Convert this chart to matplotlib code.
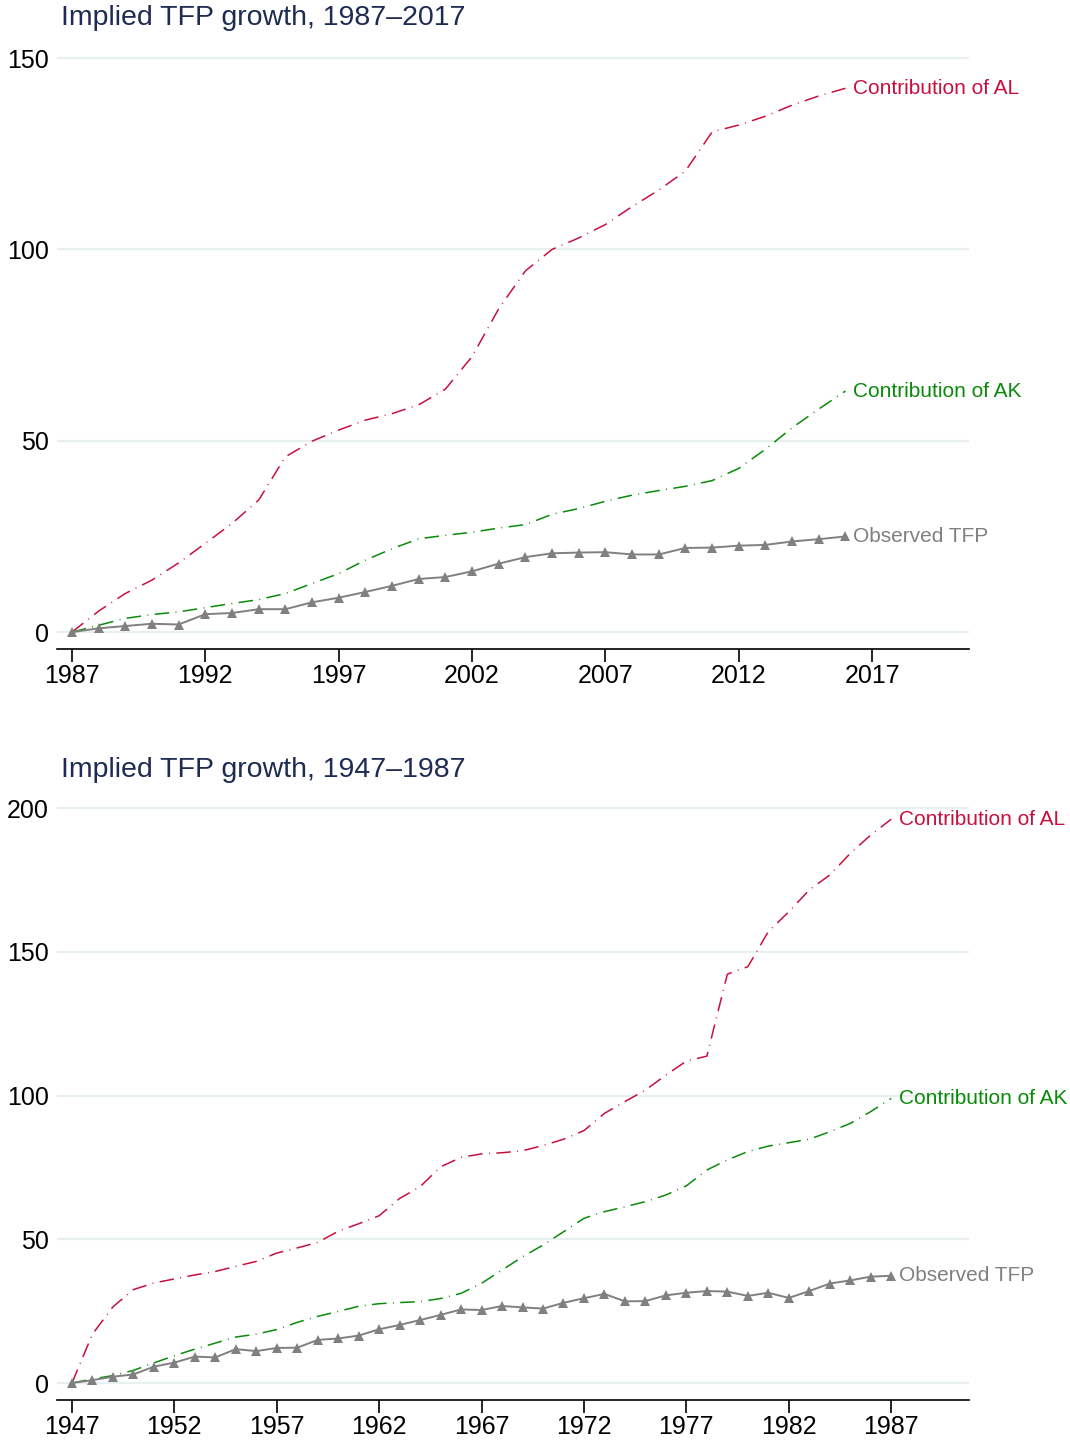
import matplotlib
matplotlib.use("Agg")
import matplotlib.pyplot as plt

plt.rcParams['font.family'] = ['Liberation Sans', 'DejaVu Sans']

# ---- 1987-2017 panel ----
years_recent = list(range(1987, 2017))
al_recent = [0, 5.5, 10.1, 13.6, 18.1, 23.2, 28.4, 34.5, 45.8, 49.9,
             52.8, 55.4, 57.1, 59.4, 63.5, 72.0, 84.5, 94.4, 100.0, 103.0,
             106.5, 111.2, 115.5, 120.5, 130.7, 132.5, 134.8, 137.7, 140.1, 142.1]
ak_recent = [0, 1.8, 3.6, 4.6, 5.3, 6.4, 7.5, 8.5, 10.1, 12.7,
             15.3, 18.8, 21.8, 24.4, 25.3, 26.1, 27.2, 28.1, 30.8, 32.3,
             34.2, 35.8, 37.0, 38.1, 39.6, 42.8, 47.8, 53.4, 58.3, 63.0]
tfp_recent = [0, 1.0, 1.6, 2.2, 2.0, 4.7, 5.0, 6.0, 6.0, 7.8,
              9.0, 10.5, 12.1, 13.9, 14.4, 15.9, 17.9, 19.6, 20.6, 20.8,
              20.9, 20.3, 20.3, 22.0, 22.1, 22.6, 22.8, 23.7, 24.3, 25.0]
xticks_recent = [1987, 1992, 1997, 2002, 2007, 2012, 2017]
yticks_recent = [0, 50, 100, 150]

# ---- 1947-1987 panel ----
years_early = list(range(1947, 1988))
al_early = [0, 17.0, 26.5, 32.5, 34.8, 36.2, 37.6, 38.8, 40.6, 42.3,
            45.2, 47.0, 48.9, 52.8, 55.4, 58.2, 64.2, 68.3, 75.2, 78.5,
            79.7, 80.1, 80.8, 82.6, 84.8, 87.8, 93.8, 97.9, 101.9, 107.1,
            112.0, 113.7, 142.2, 144.8, 157.0, 163.9, 171.5, 176.7, 184.2, 190.6,
            196.1]
ak_early = [0, 1.4, 2.6, 4.4, 7.0, 9.5, 11.8, 13.9, 16.0, 17.0,
            18.6, 21.1, 23.2, 24.9, 26.7, 27.6, 28.0, 28.3, 29.4, 31.2,
            34.7, 39.3, 43.9, 48.0, 52.6, 57.3, 59.6, 61.3, 63.1, 65.4,
            68.6, 74.1, 77.6, 80.5, 82.4, 83.6, 84.8, 87.4, 90.3, 94.4,
            99.0]
tfp_early = [0, 1.0, 2.2, 3.0, 5.7, 7.1, 9.2, 8.9, 11.8, 11.1,
             12.2, 12.3, 15.0, 15.5, 16.5, 18.7, 20.2, 21.9, 23.7, 25.6,
             25.4, 26.8, 26.3, 25.9, 27.9, 29.5, 31.0, 28.4, 28.5, 30.5,
             31.4, 32.0, 31.8, 30.3, 31.4, 29.6, 32.0, 34.6, 35.7, 37.0,
             37.3]
xticks_early = [1947, 1952, 1957, 1962, 1967, 1972, 1977, 1982, 1987]
yticks_early = [0, 50, 100, 150, 200]

RED = '#c8103e'
GREEN = '#0a8a0a'
GRAY = '#808080'
NAVY = '#1e2b52'
GRID = '#e8eff1'

W, H = 1070, 1442
fig = plt.figure(figsize=(W / 100, H / 100), dpi=100)

DASHDOT = (0, (9.5, 4.2, 0.6, 4.2))


def px_axes(left, top, right, bottom):
    return fig.add_axes([left / W, 1 - bottom / H, (right - left) / W, (bottom - top) / H])


def panel(ax, years, al, ak, tfp, xticks, yticks, xlim, ylim, title, title_y):
    ax.set_xlim(*xlim)
    ax.set_ylim(*ylim)
    ax.set_yticks(yticks)
    ax.set_xticks(xticks)
    ax.set_xticklabels([str(t) for t in xticks])
    ax.tick_params(axis='y', length=0, pad=6, labelsize=18, labelcolor='black')
    ax.tick_params(axis='x', length=9, width=1.2, pad=2, labelsize=18, direction='out')
    for side in ('left', 'right', 'top'):
        ax.spines[side].set_visible(False)
    ax.spines['bottom'].set_linewidth(1.2)
    ax.grid(axis='y', color=GRID, linewidth=1.6)
    ax.set_axisbelow(True)

    ax.plot(years, al, color=RED, linewidth=1.1, linestyle=DASHDOT)
    ax.plot(years, ak, color=GREEN, linewidth=1.1, linestyle=DASHDOT)
    ax.plot(years, tfp, color=GRAY, linewidth=1.4, marker='^', markersize=6.5,
            markeredgewidth=0, markerfacecolor=GRAY)

    for series, label, color in ((al, 'Contribution of AL', RED),
                                 (ak, 'Contribution of AK', GREEN),
                                 (tfp, 'Observed TFP', GRAY)):
        ax.annotate(label, xy=(years[-1], series[-1]), xytext=(8, 0),
                    textcoords='offset pixels', ha='left', va='center',
                    color=color, fontsize=15, annotation_clip=False)

    fig.text(61 / W, 1 - title_y / H, title, ha='left', va='center',
             color=NAVY, fontsize=20.5)


ax1 = px_axes(57, 50.4, 969, 649)
panel(ax1, years_recent, al_recent, ak_recent, tfp_recent, xticks_recent, yticks_recent,
      (1986.44, 2020.63), (-4.4, 152.0), 'Implied TFP growth, 1987\u20132017', 18)

ax2 = px_axes(57, 799.4, 969, 1400)
panel(ax2, years_early, al_early, ak_early, tfp_early, xticks_early, yticks_early,
      (1946.27, 1990.8), (-5.9, 203.0), 'Implied TFP growth, 1947\u20131987', 770)

fig.savefig('out.png', dpi=100)
